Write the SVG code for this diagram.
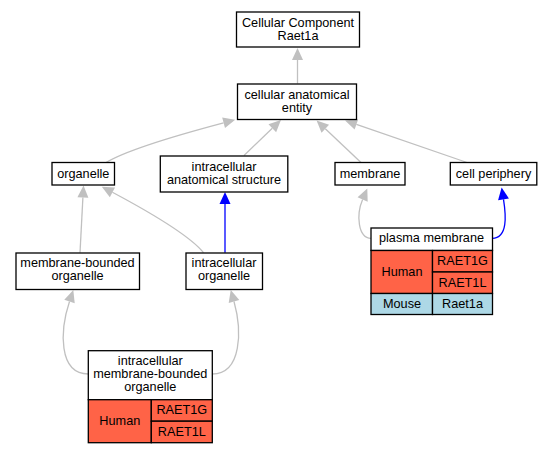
<svg xmlns="http://www.w3.org/2000/svg" width="552" height="453" viewBox="0 0 552 453">
<style>
.box{fill:#fff;stroke:#000;stroke-width:1.3}
.hum{fill:#ff6347;stroke:#000;stroke-width:1.3}
.mou{fill:#add8e6;stroke:#000;stroke-width:1.3}
text{font-family:"Liberation Sans",Arial,sans-serif;font-size:12.7px;text-anchor:middle;fill:#000}
.e{fill:none;stroke:#c0c0c0;stroke-width:1.3}
.eb{fill:none;stroke:#0000ff;stroke-width:1.3}
.g{marker-end:url(#ag)}
.b{marker-end:url(#ab)}
</style>
<defs>
<marker id="ag" markerUnits="userSpaceOnUse" markerWidth="13" markerHeight="11" refX="0" refY="5" orient="auto" overflow="visible"><path d="M0,-0.5 L12,5 L0,10.5 z" fill="#c0c0c0"/></marker>
<marker id="ab" markerUnits="userSpaceOnUse" markerWidth="13" markerHeight="11" refX="0" refY="5" orient="auto" overflow="visible"><path d="M0,-0.5 L12,5 L0,10.5 z" fill="#0000ff"/></marker>
</defs>
<rect width="552" height="453" fill="#fff"/>
<g id="edges">
<path class="e g" d="M297.5,83.5 L297.5,60"/>
<path class="e g" d="M106,162.5 C125,151 170,137 223.6,122.8"/>
<path class="e g" d="M244,155.5 L272.3,128.3"/>
<path class="e g" d="M361,162.5 L325.3,128.7"/>
<path class="e g" d="M467,162.5 L356.4,124.4"/>
<path class="e g" d="M80,252.7 L82.9,197.5"/>
<path class="e g" d="M203.5,252.7 C190,236 155,215 112.4,192.3"/>
<path class="eb b" d="M225,252.7 L225,204"/>
<path class="e g" d="M371,238.3 C358,238 356,215 362.6,199.5"/>
<path class="eb b" d="M492.3,238.3 C508,238 506,215 503.5,199.3"/>
<path class="e g" d="M88.3,374 C58,374 60,330 69.5,301.5"/>
<path class="e g" d="M212.3,374 C242,374 242,330 234,301.5"/>
</g>
<g id="n_top">
<rect class="box" x="236.5" y="12" width="123" height="35"/>
<text x="298" y="26.5">Cellular Component</text>
<text x="298" y="40">Raet1a</text>
</g>
<g id="n_cae">
<rect class="box" x="237.5" y="84" width="119" height="35.5"/>
<text x="297" y="98.5">cellular anatomical</text>
<text x="297" y="111.5">entity</text>
</g>
<g id="n_organelle">
<rect class="box" x="52" y="162.5" width="62.5" height="22.5"/>
<text x="83.3" y="178">organelle</text>
</g>
<g id="n_ias">
<rect class="box" x="160.3" y="156" width="127.5" height="36"/>
<text x="224" y="170.5">intracellular</text>
<text x="224" y="183.5">anatomical structure</text>
</g>
<g id="n_membrane">
<rect class="box" x="335" y="162.5" width="70" height="22.5"/>
<text x="370" y="178">membrane</text>
</g>
<g id="n_cellperiphery">
<rect class="box" x="450.3" y="162.5" width="86.5" height="22.5"/>
<text x="493.5" y="178">cell periphery</text>
</g>
<g id="n_mbo">
<rect class="box" x="16" y="253" width="123.5" height="36.5"/>
<text x="77.5" y="267">membrane-bounded</text>
<text x="77.5" y="280">organelle</text>
</g>
<g id="n_io">
<rect class="box" x="186" y="253" width="76.5" height="36.5"/>
<text x="224" y="267">intracellular</text>
<text x="224" y="280">organelle</text>
</g>
<g id="n_pm">
<rect class="box" x="371" y="228" width="121.5" height="22.5"/>
<text x="431.5" y="242">plasma membrane</text>
<rect class="hum" x="371" y="250.5" width="61.5" height="43"/>
<text x="402" y="276">Human</text>
<rect class="hum" x="432.5" y="250.5" width="60" height="21.5"/>
<text x="462.5" y="265">RAET1G</text>
<rect class="hum" x="432.5" y="272" width="60" height="21.5"/>
<text x="462.5" y="286.5">RAET1L</text>
<rect class="mou" x="371" y="293.5" width="61.5" height="21"/>
<text x="402" y="308">Mouse</text>
<rect class="mou" x="432.5" y="293.5" width="60" height="21"/>
<text x="462.5" y="308">Raet1a</text>
</g>
<g id="n_imbo">
<rect class="box" x="88.3" y="350.7" width="124" height="49"/>
<text x="150.3" y="365.2">intracellular</text>
<text x="150.3" y="378.3">membrane-bounded</text>
<text x="150.3" y="391.4">organelle</text>
<rect class="hum" x="88.3" y="399.7" width="63" height="43"/>
<text x="119.8" y="424.5">Human</text>
<rect class="hum" x="151.3" y="399.7" width="61" height="21.5"/>
<text x="181.8" y="414">RAET1G</text>
<rect class="hum" x="151.3" y="421.2" width="61" height="21.5"/>
<text x="181.8" y="435.5">RAET1L</text>
</g>
</svg>
